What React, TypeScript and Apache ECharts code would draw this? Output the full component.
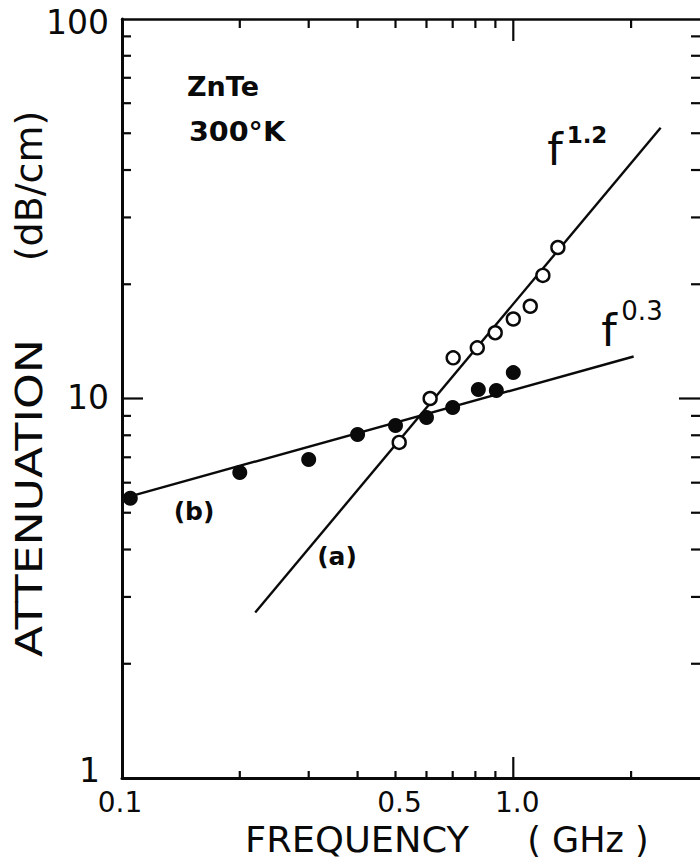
import React, { useEffect, useRef } from "react";
import * as echarts from "echarts";

// ---- data ----
const openFreq = [0.511, 0.613, 0.702, 0.809, 0.899, 1.0, 1.105, 1.19, 1.3];
const openAtt = [7.66, 10.0, 12.8, 13.6, 14.9, 16.2, 17.5, 21.1, 25.0];

const filledFreq = [0.105, 0.2, 0.3, 0.4, 0.5, 0.6, 0.7, 0.814, 0.905, 1.0];
const filledAtt = [5.46, 6.38, 6.91, 8.04, 8.49, 8.91, 9.47, 10.56, 10.5, 11.7];

// fitted lines (end points)
const lineAFreq = [0.219, 2.38];
const lineAAtt = [2.73, 51.7];
const lineBFreq = [0.1, 2.03];
const lineBAtt = [5.45, 12.9];

// axis ticks & labels
const xMajorTicks = [1];
const xMinorTicks = [0.2, 0.3, 0.4, 0.5, 0.6, 0.7, 0.8, 0.9, 2];
const yMajorTicks = [10];
const yMinorTicks = [2, 3, 4, 5, 6, 7, 8, 9, 20, 30, 40, 50, 60, 70, 80, 90];
const xLabelValues = [0.1, 0.5, 1.0];
const xLabelTexts = ["0.1", "0.5", "1.0"];
const yLabelValues = [1, 10, 100];
const yLabelTexts = ["1", "10", "100"];

const FONT = "DejaVu Sans";
const INK = "#0a0a0a";

export default function App() {
  const ref = useRef<HTMLDivElement | null>(null);

  useEffect(() => {
    if (!ref.current) return;
    const chart = echarts.init(ref.current, null, { renderer: "svg" });

    const xTickData = [...xMinorTicks, ...xMajorTicks].map((v) => [v, 1]);
    const yTickData = [...yMinorTicks, ...yMajorTicks].map((v) => [0.1, v]);

    const option: any = {
      animation: false,
      backgroundColor: "#fff",
      grid: { left: 122, right: 0, top: 19, bottom: 88, show: false },
      xAxis: [
        {
          type: "log",
          logBase: 10,
          min: 0.1,
          max: 3,
          position: "bottom",
          axisLine: { show: true, lineStyle: { color: INK, width: 3 } },
          axisTick: { show: false },
          axisLabel: { show: false },
          splitLine: { show: false },
          minorTick: { show: false },
        },
        {
          type: "log",
          logBase: 10,
          min: 0.1,
          max: 3,
          position: "top",
          axisLine: { show: true, lineStyle: { color: INK, width: 2.5 } },
          axisTick: { show: false },
          axisLabel: { show: false },
          splitLine: { show: false },
        },
      ],
      yAxis: [
        {
          type: "log",
          logBase: 10,
          min: 1,
          max: 100,
          position: "left",
          axisLine: { show: true, lineStyle: { color: INK, width: 3 } },
          axisTick: { show: false },
          axisLabel: { show: false },
          splitLine: { show: false },
        },
      ],
      series: [
        {
          type: "line",
          name: "(a) f^1.2",
          data: lineAFreq.map((f, i) => [f, lineAAtt[i]]),
          showSymbol: false,
          symbol: "none",
          lineStyle: { color: INK, width: 2.4 },
          z: 2,
        },
        {
          type: "line",
          name: "(b) f^0.3",
          data: lineBFreq.map((f, i) => [f, lineBAtt[i]]),
          showSymbol: false,
          symbol: "none",
          lineStyle: { color: INK, width: 2.4 },
          z: 2,
        },
        {
          type: "scatter",
          name: "open",
          data: openFreq.map((f, i) => [f, openAtt[i]]),
          symbol: "circle",
          symbolSize: 13,
          itemStyle: { color: "#fff", borderColor: INK, borderWidth: 2.4, opacity: 1 },
          z: 3,
        },
        {
          type: "scatter",
          name: "filled",
          data: filledFreq.map((f, i) => [f, filledAtt[i]]),
          symbol: "circle",
          symbolSize: 15,
          itemStyle: { color: INK, opacity: 1 },
          z: 3,
        },
        {
          type: "custom",
          name: "xticks",
          silent: true,
          clip: false,
          data: xTickData,
          renderItem: (params: any, api: any) => {
            const v = api.value(0);
            const major = xMajorTicks.includes(v);
            const p = api.coord([v, 1]);
            const cs = params.coordSys;
            const top = cs.y;
            const bottom = cs.y + cs.height;
            const lenB = major ? 21 : 7;
            const lenT = major ? 22 : 9;
            return {
              type: "group",
              children: [
                {
                  type: "line",
                  shape: { x1: p[0], y1: bottom, x2: p[0], y2: bottom - lenB },
                  style: { stroke: INK, lineWidth: 2.2 },
                },
                {
                  type: "line",
                  shape: { x1: p[0], y1: top, x2: p[0], y2: top + lenT },
                  style: { stroke: INK, lineWidth: 2.2 },
                },
              ],
            };
          },
          z: 5,
        },
        {
          type: "custom",
          name: "yticks",
          silent: true,
          clip: false,
          data: yTickData,
          renderItem: (params: any, api: any) => {
            const v = api.value(1);
            const major = yMajorTicks.includes(v);
            const p = api.coord([0.1, v]);
            const cs = params.coordSys;
            const left = cs.x;
            const right = cs.x + cs.width;
            const len = major ? 21 : 9;
            return {
              type: "group",
              children: [
                {
                  type: "line",
                  shape: { x1: left, y1: p[1], x2: left + len, y2: p[1] },
                  style: { stroke: INK, lineWidth: 2.2 },
                },
                {
                  type: "line",
                  shape: { x1: right, y1: p[1], x2: right - len, y2: p[1] },
                  style: { stroke: INK, lineWidth: 2.2 },
                },
              ],
            };
          },
          z: 5,
        },
        {
          type: "custom",
          name: "xlabels",
          silent: true,
          clip: false,
          data: xLabelValues.map((v) => [v, 1]),
          renderItem: (params: any, api: any) => {
            const idx = params.dataIndex;
            const p = api.coord([api.value(0), 1]);
            return {
              type: "text",
              style: {
                text: xLabelTexts[idx],
                x: p[0] + (idx === 0 ? -2 : 4),
                y: p[1] + 24,
                align: "center",
                verticalAlign: "middle",
                fontFamily: FONT,
                fontSize: 28,
                fill: INK,
              },
            };
          },
          z: 5,
        },
        {
          type: "custom",
          name: "ylabels",
          silent: true,
          clip: false,
          data: yLabelValues.map((v) => [0.1, v]),
          renderItem: (params: any, api: any) => {
            const idx = params.dataIndex;
            const p = api.coord([0.1, api.value(1)]);
            return {
              type: "text",
              style: {
                text: yLabelTexts[idx],
                x: p[0] - (idx === 0 ? 22 : 13),
                y: p[1] + (idx === 0 ? -8 : idx === 2 ? 3 : -1),
                align: "right",
                verticalAlign: "middle",
                fontFamily: FONT,
                fontSize: 33,
                fill: INK,
              },
            };
          },
          z: 5,
        },
      ],
      graphic: [
        {
          type: "text",
          x: 223,
          y: 86,
          style: { text: "ZnTe", align: "center", verticalAlign: "middle", fontFamily: FONT, fontSize: 27, fontWeight: "bold", fill: INK },
        },
        {
          type: "text",
          x: 237,
          y: 132,
          scaleX: 1.1,
          style: { text: "300°K", align: "center", verticalAlign: "middle", fontFamily: FONT, fontSize: 26, fontWeight: "bold", fill: INK },
        },
        {
          type: "text",
          x: 194,
          y: 511,
          style: { text: "(b)", align: "center", verticalAlign: "middle", fontFamily: FONT, fontSize: 25, fontWeight: "bold", fill: INK },
        },
        {
          type: "text",
          x: 337,
          y: 556,
          style: { text: "(a)", align: "center", verticalAlign: "middle", fontFamily: FONT, fontSize: 25, fontWeight: "bold", fill: INK },
        },
        {
          type: "text",
          x: 555,
          y: 149,
          style: { text: "f", align: "center", verticalAlign: "middle", fontFamily: FONT, fontSize: 44, fill: INK },
        },
        {
          type: "text",
          x: 587,
          y: 135,
          style: { text: "1.2", align: "center", verticalAlign: "middle", fontFamily: FONT, fontSize: 23, fontWeight: "bold", fill: INK },
        },
        {
          type: "text",
          x: 609,
          y: 330,
          style: { text: "f", align: "center", verticalAlign: "middle", fontFamily: FONT, fontSize: 44, fill: INK },
        },
        {
          type: "text",
          x: 642,
          y: 311,
          style: { text: "0.3", align: "center", verticalAlign: "middle", fontFamily: FONT, fontSize: 26, fill: INK },
        },
        {
          type: "text",
          x: 29,
          y: 498,
          rotation: Math.PI / 2,
          scaleX: 1.2,
          style: { text: "ATTENUATION", align: "center", verticalAlign: "middle", fontFamily: FONT, fontSize: 38, fill: INK },
        },
        {
          type: "text",
          x: 29,
          y: 186,
          rotation: Math.PI / 2,
          style: { text: "(dB/cm)", align: "center", verticalAlign: "middle", fontFamily: FONT, fontSize: 38, fill: INK },
        },
        {
          type: "text",
          x: 357,
          y: 840,
          scaleX: 1.05,
          style: { text: "FREQUENCY", align: "center", verticalAlign: "middle", fontFamily: FONT, fontSize: 35, fill: INK },
        },
        {
          type: "text",
          x: 588,
          y: 840,
          style: { text: "( GHz )", align: "center", verticalAlign: "middle", fontFamily: FONT, fontSize: 35, fill: INK },
        },
      ],
    };

    chart.setOption(option);
    return () => chart.dispose();
  }, []);

  return (
    <div
      ref={ref}
      style={{ position: "fixed", left: 0, top: 0, width: 700, height: 866, background: "#fff" }}
    />
  );
}
